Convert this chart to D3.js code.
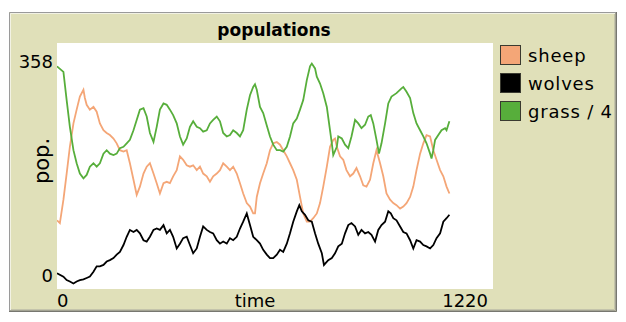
<!DOCTYPE html>
<html>
<head>
<meta charset="utf-8">
<script src="https://cdn.jsdelivr.net/npm/d3@7"></script>
<style>
  html, body { margin: 0; padding: 0; background: #ffffff; }
  svg { display: block; }
  text { font-family: "DejaVu Sans", "Liberation Sans", sans-serif; fill: #000; }
</style>
</head>
<body>
<svg id="chart" width="626" height="322"></svg>
<script>
// populations over time: [tick, count]
const sheep = [
  [0,100],[8,96],[18,130],[27,168],[36,207],[46,241],[55,261],[64,280],[74,290],[78,278],
  [83,268],[92,261],[102,265],[111,258],[120,241],[130,231],[139,227],[148,224],[158,219],
  [167,212],[176,202],[186,200],[195,202],[204,183],[214,159],[223,137],[232,149],[242,168],
  [251,178],[260,183],[270,168],[279,154],[288,139],[298,154],[307,156],[316,154],[325,164],
  [335,173],[344,193],[353,188],[363,180],[372,178],[381,180],[391,173],[400,178],[409,168],
  [419,164],[428,156],[437,164],[447,168],[456,173],[465,183],[475,178],[484,173],[493,178],
  [503,168],[512,154],[521,139],[531,125],[540,120],[549,110],[554,110],[559,134],[568,154],
  [577,168],[587,183],[596,202],[605,212],[615,214],[624,210],[633,202],[643,193],[652,183],
  [661,173],[671,159],[680,134],[689,110],[699,98],[708,98],[717,103],[727,110],[736,125],
  [745,149],[755,178],[764,207],[773,217],[778,219],[783,207],[792,193],[801,188],[810,173],
  [820,164],[829,168],[838,176],[848,164],[857,151],[866,149],[876,159],[885,183],[894,202],
  [904,183],[913,164],[922,139],[932,130],[941,125],[950,122],[960,117],[969,120],[978,125],
  [988,134],[997,149],[1006,173],[1016,197],[1025,212],[1034,224],[1044,222],[1053,202],
  [1062,188],[1072,173],[1081,164],[1090,149],[1098,139]
];

const wolves = [
  [0,23],[18,18],[27,13],[36,11],[46,8],[55,11],[64,13],[74,14],[83,16],[92,18],[102,25],
  [111,33],[120,33],[130,35],[139,40],[148,42],[158,45],[167,50],[176,54],[186,64],[195,76],
  [204,86],[214,83],[223,86],[232,81],[242,71],[251,69],[260,76],[270,86],[279,88],[288,86],
  [298,93],[307,81],[316,86],[325,76],[335,59],[344,66],[353,74],[363,76],[372,64],[381,52],
  [391,59],[400,76],[409,91],[419,86],[428,83],[437,81],[447,71],[456,66],[465,69],[475,66],
  [484,74],[493,71],[503,76],[512,88],[521,98],[531,110],[540,93],[549,76],[559,71],[568,66],
  [577,57],[587,50],[596,45],[605,45],[615,50],[624,57],[633,54],[643,66],[652,81],[661,98],
  [671,113],[678,122],[685,113],[694,108],[703,100],[713,98],[722,81],[731,66],[741,52],
  [747,35],[759,42],[769,45],[778,52],[787,62],[797,66],[806,81],[815,93],[824,96],[834,91],
  [843,79],[852,86],[862,81],[871,83],[880,79],[890,69],[899,86],[908,93],[918,98],[927,113],
  [934,110],[941,103],[950,100],[960,91],[969,83],[978,81],[988,71],[997,59],[1006,71],
  [1016,69],[1025,64],[1034,62],[1044,59],[1053,64],[1062,74],[1072,81],[1081,98],[1090,103],
  [1098,108]
];

const grassQuarter = [
  [0,324],[18,316],[27,275],[36,236],[46,202],[55,183],[64,168],[74,161],[83,166],[92,178],
  [102,183],[111,178],[120,183],[130,197],[139,202],[148,197],[158,195],[167,197],[176,205],
  [186,207],[195,212],[204,217],[214,231],[223,246],[232,261],[242,263],[251,251],[260,227],
  [270,214],[279,236],[288,261],[298,270],[307,268],[316,261],[325,253],[335,241],[344,222],
  [353,210],[363,219],[372,236],[381,244],[391,236],[400,234],[409,229],[419,231],[428,241],
  [437,246],[447,251],[456,244],[465,227],[475,222],[484,224],[493,231],[503,227],[512,222],
  [521,231],[531,261],[540,282],[549,294],[554,298],[559,290],[568,265],[577,256],[587,238],
  [596,222],[605,210],[615,202],[624,202],[633,200],[643,207],[652,222],[661,241],[671,248],
  [680,261],[689,275],[699,304],[708,324],[713,328],[722,321],[727,309],[736,299],[745,285],
  [755,265],[764,231],[769,212],[773,195],[783,207],[787,222],[797,219],[806,210],[815,205],
  [824,222],[834,246],[843,241],[852,234],[862,239],[871,251],[878,253],[885,241],[894,217],
  [901,197],[908,212],[918,241],[927,270],[936,280],[950,285],[964,292],[969,294],[978,287],
  [988,278],[997,256],[1006,241],[1016,231],[1025,222],[1034,212],[1044,197],[1048,190],
  [1053,202],[1058,217],[1067,224],[1076,231],[1086,234],[1090,231],[1098,244]
];

const seriesNames = ["sheep", "wolves", "grass / 4"];
const seriesColors = ["#f4a677", "#000000", "#57ae3b"];
const xDomain = [0, 1220];
const yDomain = [0, 358];
const xTickLabels = [0, 1220];
const yTickLabels = [0, 358];

const svg = d3.select("#chart");

// widget frame
const frame = { x: 9, y: 12, w: 608, h: 300 };
svg.append("rect")
  .attr("x", frame.x).attr("y", frame.y).attr("width", frame.w).attr("height", frame.h)
  .attr("fill", "#e0e0b9");
// bevelled border: light top/left, dark bottom/right
svg.append("path")
  .attr("d", `M${frame.x + 0.5},${frame.y + frame.h}V${frame.y + 0.5}H${frame.x + frame.w}`)
  .attr("fill", "none").attr("stroke", "#9a9a9a").attr("stroke-width", 1);
svg.append("path")
  .attr("d", `M${frame.x + 1.5},${frame.y + frame.h - 1}V${frame.y + 1.5}H${frame.x + frame.w - 1}`)
  .attr("fill", "none").attr("stroke", "#f2f2e4").attr("stroke-width", 1);
svg.append("path")
  .attr("d", `M${frame.x},${frame.y + frame.h - 0.5}H${frame.x + frame.w - 0.5}V${frame.y}`)
  .attr("fill", "none").attr("stroke", "#777770").attr("stroke-width", 1);
svg.append("path")
  .attr("d", `M${frame.x + 1},${frame.y + frame.h - 1.5}H${frame.x + frame.w - 1.5}V${frame.y + 1}`)
  .attr("fill", "none").attr("stroke", "#a3a393").attr("stroke-width", 1);
svg.append("path")
  .attr("d", `M${frame.x + 2},${frame.y + frame.h - 2.5}H${frame.x + frame.w - 2.5}V${frame.y + 2}`)
  .attr("fill", "none").attr("stroke", "#c4c4ab").attr("stroke-width", 1);

// plot area
const plot = { left: 57, top: 43, right: 493, bottom: 289 };
const x = d3.scaleLinear().domain(xDomain).range([plot.left, plot.right]);
const y = d3.scaleLinear().domain(yDomain).range([plot.bottom, plot.top]);

svg.append("rect")
  .attr("x", plot.left).attr("y", plot.top)
  .attr("width", plot.right - plot.left).attr("height", plot.bottom - plot.top)
  .attr("fill", "#ffffff");

svg.append("text")
  .attr("x", 274).attr("y", 36)
  .attr("text-anchor", "middle")
  .style("font-size", "17px").style("font-weight", "bold")
  .text("populations");

// axis end labels
svg.append("g").selectAll("text").data(yTickLabels).join("text")
  .attr("x", 53)
  .attr("y", d => d === yDomain[1] ? y(d) + 25 : y(d) - 7.5)
  .attr("text-anchor", "end")
  .style("font-size", "18px")
  .text(d => d);

svg.append("g").selectAll("text").data(xTickLabels).join("text")
  .attr("x", d => d === xDomain[0] ? x(d) : x(d) - 5)
  .attr("y", 307)
  .attr("text-anchor", d => d === xDomain[0] ? "start" : "end")
  .style("font-size", "18px")
  .text(d => d);

svg.append("text")
  .attr("x", 255).attr("y", 307)
  .attr("text-anchor", "middle")
  .style("font-size", "18px")
  .text("time");

svg.append("text")
  .attr("transform", "translate(49,161) rotate(-90)")
  .attr("text-anchor", "middle")
  .style("font-size", "21px")
  .text("pop.");

// pen lines
const line = d3.line()
  .x(d => x(d[0]))
  .y(d => y(d[1]))
  .curve(d3.curveLinear);

svg.append("clipPath").attr("id", "plot-clip")
  .append("rect")
  .attr("x", plot.left).attr("y", plot.top)
  .attr("width", plot.right - plot.left).attr("height", plot.bottom - plot.top);

const pens = svg.append("g").attr("clip-path", "url(#plot-clip)");
[sheep, wolves, grassQuarter].forEach((data, i) => {
  pens.append("path")
    .datum(data)
    .attr("d", line)
    .attr("fill", "none")
    .attr("stroke", seriesColors[i])
    .attr("stroke-width", 1.8)
    .attr("stroke-linejoin", "miter");
});

// legend
const legend = svg.append("g");
seriesNames.forEach((name, i) => {
  const top = 45 + i * 28;
  legend.append("rect")
    .attr("x", 500.5).attr("y", top + 0.5)
    .attr("width", 20).attr("height", 19)
    .attr("fill", seriesColors[i])
    .attr("stroke", "#3a3a30").attr("stroke-width", 1);
  legend.append("text")
    .attr("x", 528).attr("y", top + 17)
    .style("font-size", "18px")
    .style("letter-spacing", "0.8px")
    .text(name);
});
</script>
</body>
</html>
